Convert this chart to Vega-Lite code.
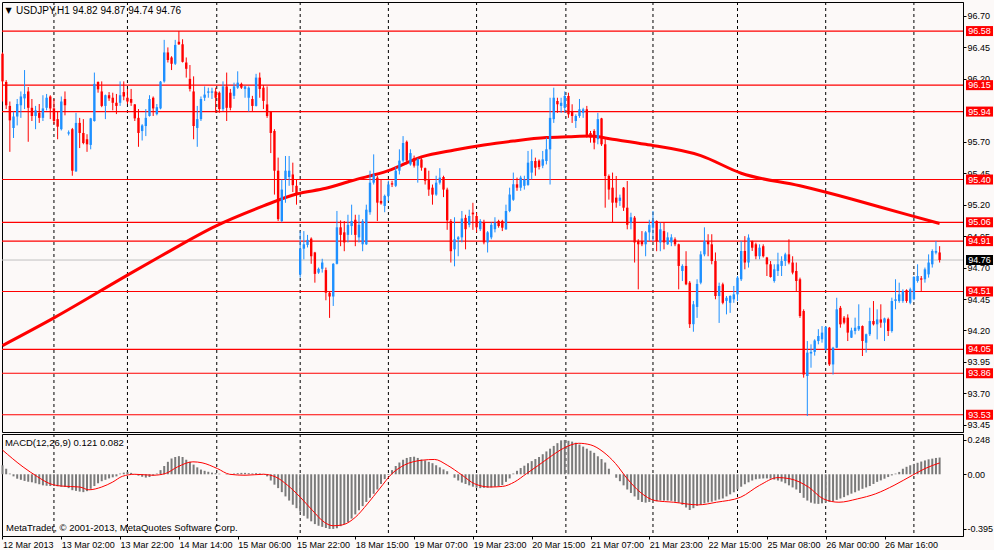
{
"$schema": "https://vega.github.io/schema/vega-lite/v6.json",
"background": "#fcf9f8",
"padding": {"left": -5, "top": 1, "right": 0, "bottom": 0},
"spacing": 2,
"bounds": "flush",
"config": {
  "view": {"stroke": "#000000", "strokeWidth": 1},
  "font": "Liberation Sans",
  "axis": {"labelFont": "Liberation Sans", "labelFontSize": 9, "labelColor": "#000000", "tickColor": "#000000", "domainColor": "#000000", "grid": false}
},
"datasets": {
  "sep": [{"s":14},{"s":34},{"s":58.3},{"s":81},{"s":105},{"s":129},{"s":153.3},{"s":177},{"s":200},{"s":224},{"s":248}],
  "levels": [{"p":96.58},{"p":96.15},{"p":95.94},{"p":95.40},{"p":95.06},{"p":94.91},{"p":94.51},{"p":94.05},{"p":93.86},{"p":93.53}],
  "cur": [{"p":94.76}],
  "ma": [{"i":0,"v":94.08},{"i":14,"v":94.30},{"i":34,"v":94.64},{"i":43,"v":94.79},{"i":58,"v":95.03},{"i":71,"v":95.19},{"i":80,"v":95.285},{"i":88,"v":95.33},{"i":95,"v":95.39},{"i":105,"v":95.47},{"i":114,"v":95.58},{"i":123,"v":95.635},{"i":131,"v":95.675},{"i":139,"v":95.706},{"i":148,"v":95.733},{"i":154,"v":95.74},{"i":160,"v":95.746},{"i":166,"v":95.72},{"i":175,"v":95.68},{"i":190,"v":95.59},{"i":201,"v":95.45},{"i":217,"v":95.35},{"i":231,"v":95.245},{"i":239,"v":95.18},{"i":255,"v":95.05}],
  "sig": [{"i":0,"v":0.175},{"i":5.6,"v":0.053},{"i":9.6,"v":-0.019},{"i":12.9,"v":-0.068},{"i":16,"v":-0.085},{"i":21,"v":-0.092},{"i":23.5,"v":-0.112},{"i":27,"v":-0.092},{"i":30,"v":-0.056},{"i":32.6,"v":-0.015},{"i":36,"v":0},{"i":41,"v":-0.007},{"i":44.3,"v":0.005},{"i":47.6,"v":0.053},{"i":51.8,"v":0.09},{"i":54.3,"v":0.083},{"i":58.5,"v":0.041},{"i":61.8,"v":0},{"i":66,"v":-0.007},{"i":71,"v":0},{"i":74.3,"v":-0.019},{"i":77.6,"v":-0.08},{"i":81,"v":-0.165},{"i":84.3,"v":-0.26},{"i":87.6,"v":-0.347},{"i":90,"v":-0.372},{"i":92.6,"v":-0.365},{"i":96,"v":-0.311},{"i":99.3,"v":-0.214},{"i":102.6,"v":-0.105},{"i":106,"v":0.005},{"i":109.3,"v":0.066},{"i":114.3,"v":0.102},{"i":117.6,"v":0.107},{"i":121,"v":0.066},{"i":125.1,"v":-0.007},{"i":128.4,"v":-0.068},{"i":132.6,"v":-0.092},{"i":136,"v":-0.088},{"i":139.3,"v":-0.056},{"i":142.6,"v":0.005},{"i":145.9,"v":0.066},{"i":149.3,"v":0.131},{"i":152.6,"v":0.187},{"i":156.8,"v":0.224},{"i":160.1,"v":0.212},{"i":163.4,"v":0.163},{"i":166.8,"v":0.078},{"i":170,"v":-0.032},{"i":173.5,"v":-0.129},{"i":177.6,"v":-0.19},{"i":182.6,"v":-0.202},{"i":189.3,"v":-0.221},{"i":194.3,"v":-0.202},{"i":200.9,"v":-0.165},{"i":206,"v":-0.08},{"i":211,"v":-0.024},{"i":214.2,"v":-0.032},{"i":219.3,"v":-0.092},{"i":223.4,"v":-0.178},{"i":227.6,"v":-0.202},{"i":232.6,"v":-0.178},{"i":237.6,"v":-0.141},{"i":242.6,"v":-0.08},{"i":247.6,"v":-0.007},{"i":251,"v":0.041},{"i":255,"v":0.082}],
  "bars": [
{"i":0,"o":96.40,"h":96.41,"l":96.02,"c":96.18,"m":0.065},
{"i":1,"o":96.175,"h":96.19,"l":95.96,"c":95.99,"m":0.04},
{"i":2,"o":95.985,"h":96.02,"l":95.62,"c":95.87,"m":0.005},
{"i":3,"o":95.81,"h":95.94,"l":95.73,"c":95.90,"m":-0.015},
{"i":4,"o":95.90,"h":96.04,"l":95.83,"c":96.00,"m":-0.032},
{"i":5,"o":95.99,"h":96.10,"l":95.89,"c":96.06,"m":-0.04},
{"i":6,"o":96.045,"h":96.27,"l":95.96,"c":96.08,"m":-0.048},
{"i":7,"o":96.10,"h":96.135,"l":95.70,"c":95.97,"m":-0.054},
{"i":8,"o":95.97,"h":96.04,"l":95.865,"c":95.905,"m":-0.058},
{"i":9,"o":95.905,"h":95.985,"l":95.80,"c":95.95,"m":-0.065},
{"i":10,"o":95.93,"h":96.00,"l":95.85,"c":95.89,"m":-0.072},
{"i":11,"o":95.89,"h":96.07,"l":95.865,"c":95.965,"m":-0.08},
{"i":12,"o":95.97,"h":96.08,"l":95.95,"c":96.05,"m":-0.083},
{"i":13,"o":96.06,"h":96.07,"l":95.88,"c":95.965,"m":-0.085},
{"i":14,"o":95.965,"h":96.04,"l":95.84,"c":95.865,"m":-0.085},
{"i":15,"o":95.88,"h":95.945,"l":95.72,"c":95.82,"m":-0.087},
{"i":16,"o":95.80,"h":96.06,"l":95.79,"c":96.02,"m":-0.09},
{"i":17,"o":96.04,"h":96.10,"l":95.91,"c":95.99,"m":-0.092},
{"i":18,"o":95.765,"h":95.79,"l":95.75,"c":95.775,"m":-0.10},
{"i":19,"o":95.80,"h":95.81,"l":95.43,"c":95.47,"m":-0.115},
{"i":20,"o":95.465,"h":95.93,"l":95.46,"c":95.85,"m":-0.12},
{"i":21,"o":95.85,"h":95.89,"l":95.65,"c":95.77,"m":-0.125},
{"i":22,"o":95.77,"h":95.88,"l":95.68,"c":95.69,"m":-0.129},
{"i":23,"o":95.72,"h":95.76,"l":95.62,"c":95.68,"m":-0.122},
{"i":24,"o":95.675,"h":95.89,"l":95.64,"c":95.886,"m":-0.105},
{"i":25,"o":95.865,"h":96.25,"l":95.86,"c":96.16,"m":-0.085},
{"i":26,"o":96.175,"h":96.18,"l":96.09,"c":96.117,"m":-0.065},
{"i":27,"o":96.10,"h":96.18,"l":95.975,"c":95.985,"m":-0.05},
{"i":28,"o":95.985,"h":96.075,"l":95.88,"c":96.07,"m":-0.04},
{"i":29,"o":96.07,"h":96.095,"l":96.025,"c":96.045,"m":-0.03},
{"i":30,"o":96.05,"h":96.09,"l":95.95,"c":96.01,"m":-0.022},
{"i":31,"o":96.01,"h":96.08,"l":95.92,"c":95.985,"m":-0.015},
{"i":32,"o":96.01,"h":96.18,"l":95.985,"c":96.07,"m":0.005},
{"i":33,"o":96.095,"h":96.18,"l":96.03,"c":96.06,"m":0.012},
{"i":34,"o":96.05,"h":96.12,"l":96.00,"c":96.02,"m":0.017},
{"i":35,"o":96.04,"h":96.12,"l":95.985,"c":96.01,"m":0.01},
{"i":36,"o":95.997,"h":96.00,"l":95.865,"c":95.886,"m":-0.002},
{"i":37,"o":95.89,"h":95.96,"l":95.66,"c":95.77,"m":-0.01},
{"i":38,"o":95.785,"h":95.84,"l":95.71,"c":95.83,"m":-0.018},
{"i":39,"o":95.825,"h":95.96,"l":95.745,"c":95.89,"m":-0.024},
{"i":40,"o":95.905,"h":96.07,"l":95.90,"c":96.04,"m":-0.02},
{"i":41,"o":96.05,"h":96.06,"l":95.905,"c":95.965,"m":-0.01},
{"i":42,"o":95.92,"h":96.00,"l":95.91,"c":95.975,"m":0.005},
{"i":43,"o":95.965,"h":96.183,"l":95.958,"c":96.178,"m":0.03},
{"i":44,"o":96.18,"h":96.51,"l":96.17,"c":96.41,"m":0.06},
{"i":45,"o":96.41,"h":96.45,"l":96.33,"c":96.35,"m":0.09},
{"i":46,"o":96.37,"h":96.38,"l":96.27,"c":96.32,"m":0.114},
{"i":47,"o":96.32,"h":96.51,"l":96.31,"c":96.47,"m":0.125},
{"i":48,"o":96.495,"h":96.58,"l":96.47,"c":96.475,"m":0.131},
{"i":49,"o":96.475,"h":96.515,"l":96.33,"c":96.335,"m":0.125},
{"i":50,"o":96.33,"h":96.37,"l":96.21,"c":96.28,"m":0.105},
{"i":51,"o":96.20,"h":96.31,"l":96.10,"c":96.12,"m":0.09},
{"i":52,"o":96.10,"h":96.22,"l":95.72,"c":95.825,"m":0.07},
{"i":53,"o":95.81,"h":95.985,"l":95.66,"c":95.88,"m":0.05},
{"i":54,"o":95.88,"h":96.06,"l":95.865,"c":96.04,"m":0.034},
{"i":55,"o":96.05,"h":96.14,"l":96.025,"c":96.075,"m":0.025},
{"i":56,"o":96.09,"h":96.13,"l":96.05,"c":96.10,"m":0.018},
{"i":57,"o":96.09,"h":96.13,"l":96.04,"c":96.10,"m":0.012},
{"i":58,"o":96.10,"h":96.13,"l":95.93,"c":96.05,"m":0.008},
{"i":59,"o":96.09,"h":96.10,"l":95.93,"c":95.96,"m":0.004},
{"i":60,"o":95.96,"h":96.18,"l":95.945,"c":96.14,"m":0.0},
{"i":61,"o":96.14,"h":96.25,"l":95.865,"c":95.97,"m":-0.003},
{"i":62,"o":96.09,"h":96.12,"l":95.95,"c":95.97,"m":0.002},
{"i":63,"o":96.065,"h":96.17,"l":96.04,"c":96.14,"m":0.005},
{"i":64,"o":96.13,"h":96.26,"l":96.12,"c":96.17,"m":0.008},
{"i":65,"o":96.16,"h":96.17,"l":96.12,"c":96.13,"m":0.01},
{"i":66,"o":96.12,"h":96.145,"l":96.05,"c":96.14,"m":0.01},
{"i":67,"o":96.05,"h":96.14,"l":95.94,"c":96.13,"m":0.008},
{"i":68,"o":96.04,"h":96.065,"l":95.945,"c":95.985,"m":0.006},
{"i":69,"o":95.985,"h":96.24,"l":95.98,"c":96.21,"m":0.008},
{"i":70,"o":96.21,"h":96.25,"l":96.05,"c":96.12,"m":0.006},
{"i":71,"o":96.13,"h":96.15,"l":95.96,"c":96.025,"m":0.003},
{"i":72,"o":95.997,"h":96.14,"l":95.89,"c":95.905,"m":-0.015},
{"i":73,"o":95.94,"h":95.945,"l":95.61,"c":95.77,"m":-0.045},
{"i":74,"o":95.786,"h":95.80,"l":95.28,"c":95.47,"m":-0.075},
{"i":75,"o":95.47,"h":95.574,"l":95.07,"c":95.085,"m":-0.10},
{"i":76,"o":95.07,"h":95.40,"l":95.06,"c":95.32,"m":-0.129},
{"i":77,"o":95.40,"h":95.587,"l":95.215,"c":95.47,"m":-0.16},
{"i":78,"o":95.42,"h":95.587,"l":95.35,"c":95.47,"m":-0.19},
{"i":79,"o":95.44,"h":95.534,"l":95.30,"c":95.355,"m":-0.22},
{"i":80,"o":95.35,"h":95.40,"l":95.20,"c":95.28,"m":-0.245},
{"i":81,"o":94.646,"h":94.99,"l":94.62,"c":94.85,"m":-0.27},
{"i":82,"o":94.85,"h":94.99,"l":94.765,"c":94.885,"m":-0.30},
{"i":83,"o":94.88,"h":94.96,"l":94.86,"c":94.92,"m":-0.32},
{"i":84,"o":94.93,"h":94.94,"l":94.73,"c":94.79,"m":-0.34},
{"i":85,"o":94.82,"h":94.825,"l":94.58,"c":94.65,"m":-0.36},
{"i":86,"o":94.66,"h":94.70,"l":94.65,"c":94.69,"m":-0.372},
{"i":87,"o":94.69,"h":94.77,"l":94.66,"c":94.74,"m":-0.38},
{"i":88,"o":94.68,"h":94.70,"l":94.44,"c":94.50,"m":-0.388},
{"i":89,"o":94.50,"h":94.51,"l":94.30,"c":94.47,"m":-0.395},
{"i":90,"o":94.47,"h":94.735,"l":94.395,"c":94.73,"m":-0.395},
{"i":91,"o":94.73,"h":95.15,"l":94.725,"c":95.02,"m":-0.39},
{"i":92,"o":95.02,"h":95.075,"l":94.87,"c":94.96,"m":-0.375},
{"i":93,"o":94.98,"h":95.07,"l":94.83,"c":94.90,"m":-0.36},
{"i":94,"o":94.96,"h":95.12,"l":94.90,"c":95.04,"m":-0.345},
{"i":95,"o":95.03,"h":95.20,"l":94.96,"c":95.07,"m":-0.32},
{"i":96,"o":95.08,"h":95.12,"l":94.87,"c":94.96,"m":-0.29},
{"i":97,"o":94.94,"h":95.12,"l":94.90,"c":95.04,"m":-0.26},
{"i":98,"o":94.885,"h":95.085,"l":94.83,"c":95.07,"m":-0.23},
{"i":99,"o":94.885,"h":95.20,"l":94.88,"c":95.16,"m":-0.20},
{"i":100,"o":95.14,"h":95.47,"l":95.12,"c":95.375,"m":-0.17},
{"i":101,"o":95.375,"h":95.60,"l":95.36,"c":95.44,"m":-0.141},
{"i":102,"o":95.415,"h":95.43,"l":95.07,"c":95.216,"m":-0.11},
{"i":103,"o":95.23,"h":95.40,"l":95.20,"c":95.21,"m":-0.07},
{"i":104,"o":95.19,"h":95.28,"l":95.14,"c":95.27,"m":-0.035},
{"i":105,"o":95.27,"h":95.39,"l":95.23,"c":95.36,"m":-0.005},
{"i":106,"o":95.37,"h":95.39,"l":95.34,"c":95.36,"m":0.03},
{"i":107,"o":95.35,"h":95.50,"l":95.34,"c":95.47,"m":0.06},
{"i":108,"o":95.47,"h":95.64,"l":95.44,"c":95.55,"m":0.085},
{"i":109,"o":95.55,"h":95.745,"l":95.535,"c":95.69,"m":0.105},
{"i":110,"o":95.70,"h":95.71,"l":95.52,"c":95.55,"m":0.118},
{"i":111,"o":95.52,"h":95.64,"l":95.51,"c":95.61,"m":0.125},
{"i":112,"o":95.57,"h":95.59,"l":95.495,"c":95.51,"m":0.127},
{"i":113,"o":95.51,"h":95.57,"l":95.375,"c":95.56,"m":0.118},
{"i":114,"o":95.56,"h":95.57,"l":95.47,"c":95.494,"m":0.107},
{"i":115,"o":95.49,"h":95.495,"l":95.36,"c":95.39,"m":0.10},
{"i":116,"o":95.40,"h":95.47,"l":95.27,"c":95.32,"m":0.09},
{"i":117,"o":95.335,"h":95.36,"l":95.20,"c":95.28,"m":0.08},
{"i":118,"o":95.28,"h":95.43,"l":95.27,"c":95.375,"m":0.065},
{"i":119,"o":95.375,"h":95.49,"l":95.36,"c":95.415,"m":0.05},
{"i":120,"o":95.42,"h":95.43,"l":95.26,"c":95.32,"m":0.035},
{"i":121,"o":95.32,"h":95.335,"l":95.00,"c":95.075,"m":0.022},
{"i":122,"o":95.07,"h":95.085,"l":94.74,"c":94.83,"m":0.0},
{"i":123,"o":94.845,"h":95.10,"l":94.71,"c":94.925,"m":-0.025},
{"i":124,"o":94.925,"h":94.95,"l":94.79,"c":94.94,"m":-0.045},
{"i":125,"o":94.94,"h":95.15,"l":94.90,"c":95.09,"m":-0.06},
{"i":126,"o":95.095,"h":95.12,"l":94.845,"c":95.005,"m":-0.07},
{"i":127,"o":95.04,"h":95.16,"l":95.02,"c":95.11,"m":-0.08},
{"i":128,"o":95.137,"h":95.215,"l":95.00,"c":95.123,"m":-0.09},
{"i":129,"o":95.11,"h":95.137,"l":94.98,"c":95.02,"m":-0.097},
{"i":130,"o":95.005,"h":95.085,"l":94.99,"c":95.07,"m":-0.10},
{"i":131,"o":95.06,"h":95.08,"l":94.885,"c":94.90,"m":-0.098},
{"i":132,"o":94.90,"h":94.99,"l":94.82,"c":94.98,"m":-0.097},
{"i":133,"o":94.94,"h":95.06,"l":94.925,"c":95.04,"m":-0.095},
{"i":134,"o":95.005,"h":95.10,"l":94.98,"c":95.057,"m":-0.09},
{"i":135,"o":95.07,"h":95.08,"l":95.017,"c":95.03,"m":-0.085},
{"i":136,"o":95.07,"h":95.08,"l":94.99,"c":95.017,"m":-0.078},
{"i":137,"o":95.004,"h":95.20,"l":95.00,"c":95.15,"m":-0.055},
{"i":138,"o":95.15,"h":95.335,"l":95.14,"c":95.28,"m":-0.03},
{"i":139,"o":95.24,"h":95.455,"l":95.23,"c":95.362,"m":0.005},
{"i":140,"o":95.362,"h":95.415,"l":95.31,"c":95.335,"m":0.025},
{"i":141,"o":95.335,"h":95.43,"l":95.31,"c":95.415,"m":0.045},
{"i":142,"o":95.35,"h":95.43,"l":95.32,"c":95.40,"m":0.062},
{"i":143,"o":95.357,"h":95.627,"l":95.35,"c":95.534,"m":0.08},
{"i":144,"o":95.455,"h":95.64,"l":95.40,"c":95.547,"m":0.095},
{"i":145,"o":95.547,"h":95.574,"l":95.43,"c":95.494,"m":0.11},
{"i":146,"o":95.55,"h":95.56,"l":95.48,"c":95.50,"m":0.125},
{"i":147,"o":95.51,"h":95.627,"l":95.49,"c":95.56,"m":0.145},
{"i":148,"o":95.547,"h":95.733,"l":95.52,"c":95.64,"m":0.165},
{"i":149,"o":95.64,"h":96.05,"l":95.36,"c":95.89,"m":0.185},
{"i":150,"o":95.88,"h":96.13,"l":95.85,"c":96.05,"m":0.205},
{"i":151,"o":96.024,"h":96.05,"l":95.93,"c":95.998,"m":0.225},
{"i":152,"o":95.985,"h":96.05,"l":95.93,"c":96.01,"m":0.245},
{"i":153,"o":95.97,"h":96.10,"l":95.93,"c":96.064,"m":0.248},
{"i":154,"o":96.064,"h":96.09,"l":95.89,"c":95.918,"m":0.242},
{"i":155,"o":95.945,"h":95.998,"l":95.85,"c":95.905,"m":0.236},
{"i":156,"o":95.865,"h":95.918,"l":95.81,"c":95.905,"m":0.228},
{"i":157,"o":95.905,"h":96.04,"l":95.89,"c":95.958,"m":0.215},
{"i":158,"o":95.93,"h":95.97,"l":95.89,"c":95.958,"m":0.20},
{"i":159,"o":95.958,"h":95.985,"l":95.733,"c":95.746,"m":0.185},
{"i":160,"o":95.77,"h":95.786,"l":95.693,"c":95.733,"m":0.17},
{"i":161,"o":95.786,"h":95.80,"l":95.64,"c":95.693,"m":0.155},
{"i":162,"o":95.72,"h":95.93,"l":95.68,"c":95.88,"m":0.13},
{"i":163,"o":95.886,"h":95.89,"l":95.667,"c":95.68,"m":0.11},
{"i":164,"o":95.68,"h":95.72,"l":95.176,"c":95.428,"m":0.085},
{"i":165,"o":95.428,"h":95.44,"l":95.24,"c":95.32,"m":0.04},
{"i":166,"o":95.335,"h":95.455,"l":95.057,"c":95.216,"m":0.0},
{"i":167,"o":95.256,"h":95.428,"l":95.176,"c":95.216,"m":-0.025},
{"i":168,"o":95.23,"h":95.28,"l":95.19,"c":95.256,"m":-0.05},
{"i":169,"o":95.335,"h":95.34,"l":95.15,"c":95.176,"m":-0.08},
{"i":170,"o":95.176,"h":95.388,"l":95.004,"c":95.04,"m":-0.11},
{"i":171,"o":95.057,"h":95.136,"l":95.004,"c":95.10,"m":-0.135},
{"i":172,"o":95.097,"h":95.11,"l":94.74,"c":94.90,"m":-0.16},
{"i":173,"o":94.91,"h":94.925,"l":94.527,"c":94.885,"m":-0.185},
{"i":174,"o":94.91,"h":94.99,"l":94.87,"c":94.885,"m":-0.20},
{"i":175,"o":94.885,"h":94.99,"l":94.79,"c":94.98,"m":-0.205},
{"i":176,"o":94.98,"h":95.08,"l":94.91,"c":95.04,"m":-0.20},
{"i":177,"o":95.017,"h":95.15,"l":94.91,"c":95.075,"m":-0.197},
{"i":178,"o":95.07,"h":95.075,"l":94.83,"c":94.91,"m":-0.195},
{"i":179,"o":94.90,"h":95.057,"l":94.83,"c":95.004,"m":-0.19},
{"i":180,"o":94.99,"h":95.06,"l":94.845,"c":94.90,"m":-0.19},
{"i":181,"o":94.885,"h":94.98,"l":94.88,"c":94.94,"m":-0.19},
{"i":182,"o":94.90,"h":94.965,"l":94.87,"c":94.94,"m":-0.192},
{"i":183,"o":94.925,"h":94.94,"l":94.87,"c":94.885,"m":-0.198},
{"i":184,"o":94.885,"h":94.89,"l":94.527,"c":94.713,"m":-0.205},
{"i":185,"o":94.673,"h":94.726,"l":94.593,"c":94.713,"m":-0.22},
{"i":186,"o":94.713,"h":94.83,"l":94.56,"c":94.567,"m":-0.24},
{"i":187,"o":94.58,"h":94.593,"l":94.22,"c":94.25,"m":-0.258},
{"i":188,"o":94.25,"h":94.435,"l":94.19,"c":94.408,"m":-0.245},
{"i":189,"o":94.387,"h":94.607,"l":94.30,"c":94.57,"m":-0.228},
{"i":190,"o":94.58,"h":94.83,"l":94.567,"c":94.805,"m":-0.22},
{"i":191,"o":94.805,"h":95.02,"l":94.79,"c":94.91,"m":-0.21},
{"i":192,"o":94.91,"h":94.965,"l":94.79,"c":94.885,"m":-0.203},
{"i":193,"o":94.885,"h":94.965,"l":94.726,"c":94.752,"m":-0.198},
{"i":194,"o":94.752,"h":94.82,"l":94.448,"c":94.474,"m":-0.19},
{"i":195,"o":94.474,"h":94.58,"l":94.26,"c":94.554,"m":-0.182},
{"i":196,"o":94.567,"h":94.58,"l":94.408,"c":94.42,"m":-0.175},
{"i":197,"o":94.435,"h":94.474,"l":94.328,"c":94.46,"m":-0.16},
{"i":198,"o":94.42,"h":94.48,"l":94.34,"c":94.474,"m":-0.145},
{"i":199,"o":94.448,"h":94.554,"l":94.42,"c":94.487,"m":-0.13},
{"i":200,"o":94.487,"h":94.633,"l":94.434,"c":94.62,"m":-0.11},
{"i":201,"o":94.607,"h":94.91,"l":94.593,"c":94.832,"m":-0.09},
{"i":202,"o":94.832,"h":94.95,"l":94.686,"c":94.74,"m":-0.072},
{"i":203,"o":94.74,"h":94.964,"l":94.70,"c":94.938,"m":-0.058},
{"i":204,"o":94.911,"h":94.915,"l":94.832,"c":94.858,"m":-0.045},
{"i":205,"o":94.885,"h":94.898,"l":94.766,"c":94.79,"m":-0.036},
{"i":206,"o":94.79,"h":94.885,"l":94.766,"c":94.858,"m":-0.032},
{"i":207,"o":94.87,"h":94.885,"l":94.78,"c":94.79,"m":-0.03},
{"i":208,"o":94.78,"h":94.785,"l":94.633,"c":94.726,"m":-0.03},
{"i":209,"o":94.726,"h":94.752,"l":94.62,"c":94.625,"m":-0.032},
{"i":210,"o":94.593,"h":94.726,"l":94.58,"c":94.686,"m":-0.038},
{"i":211,"o":94.673,"h":94.818,"l":94.633,"c":94.726,"m":-0.045},
{"i":212,"o":94.713,"h":94.79,"l":94.633,"c":94.752,"m":-0.053},
{"i":213,"o":94.752,"h":94.818,"l":94.713,"c":94.805,"m":-0.065},
{"i":214,"o":94.805,"h":94.925,"l":94.726,"c":94.74,"m":-0.08},
{"i":215,"o":94.74,"h":94.79,"l":94.646,"c":94.66,"m":-0.095},
{"i":216,"o":94.673,"h":94.74,"l":94.514,"c":94.593,"m":-0.11},
{"i":217,"o":94.607,"h":94.62,"l":94.30,"c":94.315,"m":-0.135},
{"i":218,"o":94.355,"h":94.368,"l":93.825,"c":93.85,"m":-0.17},
{"i":219,"o":93.838,"h":94.116,"l":93.52,"c":94.024,"m":-0.19},
{"i":220,"o":94.017,"h":94.09,"l":93.904,"c":94.03,"m":-0.205},
{"i":221,"o":94.03,"h":94.13,"l":94.00,"c":94.12,"m":-0.212},
{"i":222,"o":94.116,"h":94.21,"l":94.09,"c":94.156,"m":-0.214},
{"i":223,"o":94.13,"h":94.235,"l":94.103,"c":94.183,"m":-0.21},
{"i":224,"o":94.05,"h":94.235,"l":94.037,"c":94.228,"m":-0.205},
{"i":225,"o":94.222,"h":94.228,"l":93.918,"c":93.93,"m":-0.20},
{"i":226,"o":93.93,"h":94.07,"l":93.85,"c":94.063,"m":-0.195},
{"i":227,"o":94.063,"h":94.46,"l":94.06,"c":94.368,"m":-0.185},
{"i":228,"o":94.38,"h":94.395,"l":94.222,"c":94.249,"m":-0.175},
{"i":229,"o":94.302,"h":94.315,"l":94.249,"c":94.262,"m":-0.165},
{"i":230,"o":94.302,"h":94.328,"l":94.116,"c":94.183,"m":-0.152},
{"i":231,"o":94.143,"h":94.222,"l":94.14,"c":94.20,"m":-0.14},
{"i":232,"o":94.196,"h":94.302,"l":94.169,"c":94.222,"m":-0.13},
{"i":233,"o":94.209,"h":94.408,"l":94.196,"c":94.235,"m":-0.118},
{"i":234,"o":94.235,"h":94.24,"l":93.997,"c":94.116,"m":-0.105},
{"i":235,"o":94.103,"h":94.175,"l":94.024,"c":94.17,"m":-0.095},
{"i":236,"o":94.17,"h":94.381,"l":94.156,"c":94.275,"m":-0.085},
{"i":237,"o":94.275,"h":94.434,"l":94.24,"c":94.249,"m":-0.07},
{"i":238,"o":94.249,"h":94.368,"l":94.129,"c":94.288,"m":-0.055},
{"i":239,"o":94.288,"h":94.408,"l":94.222,"c":94.262,"m":-0.044},
{"i":240,"o":94.262,"h":94.302,"l":94.116,"c":94.296,"m":-0.032},
{"i":241,"o":94.29,"h":94.302,"l":94.156,"c":94.196,"m":-0.02},
{"i":242,"o":94.196,"h":94.461,"l":94.183,"c":94.434,"m":-0.008},
{"i":243,"o":94.434,"h":94.607,"l":94.368,"c":94.448,"m":0.005},
{"i":244,"o":94.434,"h":94.58,"l":94.42,"c":94.487,"m":0.017},
{"i":245,"o":94.434,"h":94.527,"l":94.42,"c":94.514,"m":0.04},
{"i":246,"o":94.52,"h":94.527,"l":94.42,"c":94.434,"m":0.054},
{"i":247,"o":94.42,"h":94.54,"l":94.408,"c":94.527,"m":0.065},
{"i":248,"o":94.448,"h":94.633,"l":94.44,"c":94.625,"m":0.075},
{"i":249,"o":94.593,"h":94.726,"l":94.58,"c":94.633,"m":0.083},
{"i":250,"o":94.614,"h":94.633,"l":94.514,"c":94.604,"m":0.092},
{"i":251,"o":94.607,"h":94.70,"l":94.58,"c":94.686,"m":0.10},
{"i":252,"o":94.646,"h":94.805,"l":94.62,"c":94.74,"m":0.108},
{"i":253,"o":94.726,"h":94.845,"l":94.70,"c":94.832,"m":0.113},
{"i":254,"o":94.818,"h":94.911,"l":94.805,"c":94.832,"m":0.118},
{"i":255,"o":94.82,"h":94.87,"l":94.74,"c":94.76,"m":0.121}
  ]
},
"resolve": {"scale": {"x": "independent", "y": "independent"}},
"vconcat": [
 {
  "width": 961, "height": 430,
  "resolve": {"axis": {"x": "independent", "y": "independent"}},
  "layer": [
   {"data": {"name": "sep"}, "mark": {"type": "rule", "strokeDash": [3,3], "color": "#000000", "strokeWidth": 1},
    "encoding": {"x": {"field": "s", "type": "quantitative", "scale": {"domain": [-0.136, 261.36], "nice": false, "zero": false, "padding": 0}, "axis": null}}},
   {"data": {"name": "levels"}, "mark": {"type": "rule", "color": "#ff0000", "strokeWidth": 1.2},
    "encoding": {"y": {"field": "p", "type": "quantitative", "scale": {"domain": [93.393, 96.811], "nice": false, "zero": false, "padding": 0},
      "axis": {"orient": "right", "title": null, "values": [96.70,96.45,96.20,95.70,95.45,95.20,94.95,94.70,94.45,94.20,93.95,93.70,93.45], "labelExpr": "format(datum.value, '.2f')", "tickSize": 3, "labelPadding": 1, "domain": true, "labelFontSize": 9, "labelOverlap": false, "labelBound": false}}}},
   {"data": {"name": "cur"}, "mark": {"type": "rule", "color": "#c0c0c0", "strokeWidth": 1},
    "encoding": {"y": {"field": "p", "type": "quantitative", "axis": null}}},
   {"data": {"name": "ma"}, "mark": {"type": "line", "color": "#ff0000", "strokeWidth": 3, "interpolate": "monotone"},
    "encoding": {"x": {"field": "i", "type": "quantitative", "axis": null}, "y": {"field": "v", "type": "quantitative", "axis": null}}},
   {"data": {"name": "bars"}, "mark": {"type": "rule", "strokeWidth": 1},
    "encoding": {"x": {"field": "i", "type": "quantitative", "axis": null}, "y": {"field": "l", "type": "quantitative", "axis": null}, "y2": {"field": "h"},
      "color": {"condition": {"test": "datum.c >= datum.o", "value": "#1e90ff"}, "value": "#ff0000"}}},
   {"data": {"name": "bars"}, "mark": {"type": "bar", "size": 2.4},
    "encoding": {"x": {"field": "i", "type": "quantitative", "axis": null}, "y": {"field": "o", "type": "quantitative", "axis": null}, "y2": {"field": "c"},
      "color": {"condition": {"test": "datum.c >= datum.o", "value": "#1e90ff"}, "value": "#ff0000"}}},
   {"data": {"name": "levels"}, "mark": {"type": "tick", "orient": "horizontal", "size": 27, "thickness": 10, "color": "#ff0000", "opacity": 1},
    "encoding": {"x": {"datum": 265.85, "type": "quantitative", "axis": null}, "y": {"field": "p", "type": "quantitative", "axis": null}}},
   {"data": {"name": "levels"}, "mark": {"type": "text", "color": "#ffffff", "fontSize": 9, "font": "Liberation Sans", "align": "center", "baseline": "middle"},
    "encoding": {"x": {"datum": 265.85, "type": "quantitative", "axis": null}, "y": {"field": "p", "type": "quantitative", "axis": null}, "text": {"field": "p", "format": ".2f"}}},
   {"data": {"name": "cur"}, "mark": {"type": "tick", "orient": "horizontal", "size": 27, "thickness": 10, "color": "#000000", "opacity": 1},
    "encoding": {"x": {"datum": 265.85, "type": "quantitative", "axis": null}, "y": {"field": "p", "type": "quantitative", "axis": null}}},
   {"data": {"name": "cur"}, "mark": {"type": "text", "color": "#ffffff", "fontSize": 9, "font": "Liberation Sans", "align": "center", "baseline": "middle"},
    "encoding": {"x": {"datum": 265.85, "type": "quantitative", "axis": null}, "y": {"field": "p", "type": "quantitative", "axis": null}, "text": {"field": "p", "format": ".2f"}}},
   {"data": {"name": "cur"}, "mark": {"type": "text", "text": "▼", "color": "#000000", "fontSize": 8, "font": "DejaVu Sans", "align": "left", "baseline": "middle"},
    "encoding": {"x": {"datum": 0.8, "type": "quantitative", "axis": null}, "y": {"datum": 96.74, "type": "quantitative", "axis": null}}},
   {"data": {"name": "cur"}, "mark": {"type": "text", "text": "USDJPY,H1  94.82 94.87 94.74 94.76", "color": "#000000", "fontSize": 10, "font": "Liberation Sans", "align": "left", "baseline": "middle"},
    "encoding": {"x": {"datum": 3.7, "type": "quantitative", "axis": null}, "y": {"datum": 96.74, "type": "quantitative", "axis": null}}}
  ]
 },
 {
  "width": 961, "height": 102,
  "resolve": {"axis": {"x": "independent", "y": "independent"}},
  "layer": [
   {"data": {"name": "sep"}, "mark": {"type": "rule", "strokeDash": [3,3], "color": "#000000", "strokeWidth": 1},
    "encoding": {"x": {"field": "s", "type": "quantitative", "scale": {"domain": [-0.136, 261.36], "nice": false, "zero": false, "padding": 0},
      "axis": {"orient": "bottom", "title": null, "values": [0,16,32,48,64,80,96,112,128,144,160,176,192,208,224,240],
        "labelExpr": "['12 Mar 2013','13 Mar 02:00','13 Mar 22:00','14 Mar 14:00','15 Mar 06:00','15 Mar 22:00','18 Mar 15:00','19 Mar 07:00','19 Mar 23:00','20 Mar 15:00','21 Mar 07:00','21 Mar 23:00','22 Mar 15:00','25 Mar 08:00','26 Mar 00:00','26 Mar 16:00'][round(datum.value/16)]",
        "labelAlign": "left", "labelBaseline": "top", "tickSize": 3, "labelPadding": 1, "domain": false, "labelFlush": false, "labelOverlap": false, "labelBound": false, "labelFontSize": 9}}}},
   {"data": {"name": "bars"}, "mark": {"type": "bar", "size": 2, "color": "#7a7a7a"},
    "encoding": {"x": {"field": "i", "type": "quantitative", "axis": null}, "y": {"field": "m", "type": "quantitative", "scale": {"domain": [-0.446, 0.291], "nice": false, "zero": false, "padding": 0},
      "axis": {"orient": "right", "title": null, "values": [0.248, 0, -0.395], "labelExpr": "datum.value > 0.1 ? '0.248' : (datum.value < -0.1 ? '-0.395' : '0.00')", "tickSize": 3, "labelPadding": 1, "domain": true, "labelFontSize": 9, "labelOverlap": false, "labelBound": false}},
      "y2": {"datum": 0}}},
   {"data": {"name": "sig"}, "mark": {"type": "line", "color": "#ff0000", "strokeWidth": 1, "interpolate": "monotone"},
    "encoding": {"x": {"field": "i", "type": "quantitative", "axis": null}, "y": {"field": "v", "type": "quantitative", "axis": null}}},
   {"data": {"name": "cur"}, "mark": {"type": "text", "text": "MACD(12,26,9) 0.121 0.082", "color": "#000000", "fontSize": 9.5, "font": "Liberation Sans", "align": "left", "baseline": "middle"},
    "encoding": {"x": {"datum": 0.65, "type": "quantitative", "axis": null}, "y": {"datum": 0.226, "type": "quantitative", "axis": null}}},
   {"data": {"name": "cur"}, "mark": {"type": "text", "text": "MetaTrader, © 2001-2013, MetaQuotes Software Corp.", "color": "#000000", "fontSize": 9.5, "font": "Liberation Sans", "align": "left", "baseline": "middle"},
    "encoding": {"x": {"datum": 0.95, "type": "quantitative", "axis": null}, "y": {"datum": -0.388, "type": "quantitative", "axis": null}}}
  ]
 }
]
}
